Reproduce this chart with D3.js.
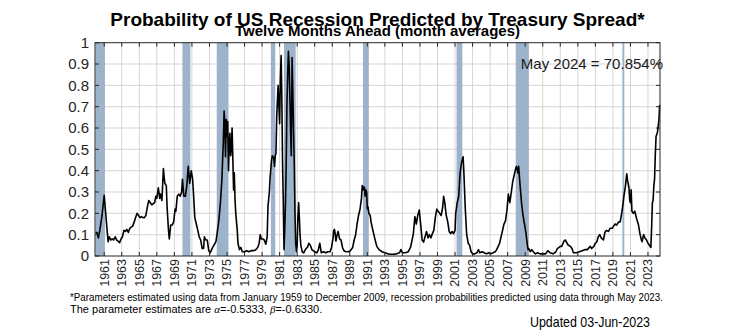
<!DOCTYPE html>
<html>
<head>
<meta charset="utf-8">
<script src="https://cdn.jsdelivr.net/npm/d3@7"></script>
<style>
  body { margin: 0; background: #fff; }
  text { font-family: "Liberation Sans", Arial, sans-serif; }
</style>
</head>
<body>
<div id="chart"></div>
<script>
// NBER recessions (decimal years)
var recStart = [1960.0, 1969.92, 1973.83, 1980.0, 1981.5, 1990.5, 2001.17, 2007.92, 2020.08];
var recEnd   = [1961.08, 1970.83, 1975.17, 1980.5, 1982.83, 1991.17, 2001.83, 2009.42, 2020.3];

var yearTicks = [1961, 1963, 1965, 1967, 1969, 1971, 1973, 1975, 1977, 1979, 1981, 1983, 1985, 1987,
  1989, 1991, 1993, 1995, 1997, 1999, 2001, 2003, 2005, 2007, 2009, 2011, 2013, 2015, 2017, 2019, 2021, 2023];
var probTicks = [0, 0.1, 0.2, 0.3, 0.4, 0.5, 0.6, 0.7, 0.8, 0.9, 1];
var probLabels = ["0", "0.1", "0.2", "0.3", "0.4", "0.5", "0.6", "0.7", "0.8", "0.9", "1"];

// [year, probability]
var spreadProb = [
  [1960.00,0.11],[1960.17,0.11],[1960.33,0.085],[1960.50,0.12],[1960.75,0.19],[1961.00,0.285],[1961.17,0.20],
  [1961.33,0.12],[1961.45,0.067],[1961.58,0.09],[1961.75,0.075],[1961.92,0.08],[1962.08,0.075],[1962.25,0.09],
  [1962.42,0.075],[1962.58,0.07],[1962.75,0.062],[1962.92,0.08],[1963.08,0.09],[1963.25,0.12],[1963.42,0.115],
  [1963.58,0.125],[1963.75,0.11],[1963.92,0.13],[1964.08,0.135],[1964.25,0.14],[1964.42,0.16],[1964.58,0.18],
  [1964.75,0.20],[1964.92,0.19],[1965.08,0.18],[1965.25,0.185],[1965.42,0.18],[1965.58,0.18],[1965.75,0.19],
  [1965.92,0.23],[1966.08,0.26],[1966.25,0.25],[1966.42,0.24],[1966.58,0.245],[1966.75,0.25],[1966.88,0.28],
  [1967.00,0.27],[1967.17,0.32],[1967.33,0.27],[1967.42,0.29],[1967.58,0.26],[1967.75,0.41],[1967.83,0.37],
  [1967.92,0.34],[1968.08,0.33],[1968.17,0.23],[1968.33,0.12],[1968.42,0.08],[1968.58,0.145],[1968.75,0.145],
  [1968.92,0.16],[1969.08,0.22],[1969.17,0.21],[1969.33,0.28],[1969.50,0.29],[1969.67,0.28],[1969.83,0.30],
  [1969.92,0.36],[1970.08,0.28],[1970.25,0.28],[1970.42,0.33],[1970.58,0.42],[1970.75,0.34],[1970.92,0.40],
  [1971.08,0.36],[1971.17,0.30],[1971.33,0.18],[1971.50,0.15],[1971.67,0.12],[1971.83,0.09],[1972.00,0.075],
  [1972.17,0.035],[1972.33,0.035],[1972.42,0.09],[1972.58,0.075],[1972.75,0.075],[1972.92,0.025],[1973.08,0.015],
  [1973.25,0.03],[1973.42,0.045],[1973.58,0.055],[1973.75,0.07],[1973.92,0.12],[1974.08,0.17],[1974.25,0.25],
  [1974.42,0.36],[1974.50,0.45],[1974.58,0.53],[1974.67,0.68],[1974.75,0.63],[1974.83,0.465],[1974.92,0.64],
  [1975.00,0.56],[1975.08,0.63],[1975.17,0.40],[1975.25,0.52],[1975.33,0.575],[1975.42,0.47],[1975.50,0.51],
  [1975.58,0.60],[1975.67,0.45],[1975.75,0.31],[1975.83,0.39],[1975.92,0.26],[1976.00,0.20],[1976.17,0.12],
  [1976.25,0.06],[1976.42,0.03],[1976.58,0.04],[1976.75,0.02],[1977.00,0.02],[1977.25,0.025],[1977.50,0.02],
  [1977.75,0.025],[1978.00,0.025],[1978.25,0.028],[1978.50,0.04],[1978.67,0.06],[1978.79,0.10],[1978.92,0.08],
  [1979.08,0.08],[1979.25,0.075],[1979.42,0.055],[1979.58,0.09],[1979.67,0.23],[1979.83,0.30],[1979.92,0.37],
  [1980.08,0.45],[1980.17,0.47],[1980.33,0.46],[1980.42,0.42],[1980.50,0.47],[1980.58,0.48],[1980.67,0.65],
  [1980.75,0.73],[1980.83,0.80],[1980.92,0.70],[1981.00,0.62],[1981.08,0.82],[1981.17,0.94],[1981.25,0.75],
  [1981.33,0.45],[1981.42,0.25],[1981.50,0.03],[1981.58,0.12],[1981.67,0.25],[1981.75,0.43],[1981.83,0.70],
  [1981.92,0.85],[1982.00,0.96],[1982.08,0.90],[1982.17,0.75],[1982.25,0.59],[1982.33,0.47],[1982.42,0.93],
  [1982.50,0.78],[1982.58,0.60],[1982.67,0.43],[1982.75,0.20],[1982.83,0.06],[1982.92,0.02],[1983.00,0.05],
  [1983.08,0.18],[1983.17,0.25],[1983.25,0.18],[1983.33,0.10],[1983.42,0.05],[1983.58,0.02],[1983.75,0.015],
  [1984.00,0.035],[1984.17,0.04],[1984.33,0.06],[1984.50,0.05],[1984.67,0.03],[1984.83,0.025],[1985.00,0.02],
  [1985.25,0.015],[1985.42,0.03],[1985.58,0.06],[1985.75,0.015],[1986.00,0.02],[1986.25,0.015],[1986.50,0.02],
  [1986.75,0.02],[1986.92,0.04],[1987.08,0.08],[1987.17,0.12],[1987.25,0.125],[1987.33,0.105],[1987.42,0.07],
  [1987.50,0.09],[1987.67,0.115],[1987.83,0.08],[1988.00,0.075],[1988.17,0.04],[1988.33,0.025],[1988.58,0.02],
  [1988.83,0.02],[1989.08,0.025],[1989.33,0.04],[1989.50,0.075],[1989.67,0.10],[1989.83,0.15],[1990.00,0.19],
  [1990.17,0.22],[1990.33,0.27],[1990.42,0.33],[1990.50,0.31],[1990.58,0.325],[1990.67,0.32],[1990.75,0.28],
  [1990.83,0.31],[1990.92,0.30],[1991.00,0.22],[1991.08,0.23],[1991.17,0.20],[1991.33,0.19],[1991.42,0.16],
  [1991.58,0.13],[1991.75,0.10],[1991.92,0.07],[1992.08,0.045],[1992.33,0.03],[1992.67,0.02],[1993.00,0.015],
  [1993.33,0.01],[1993.67,0.008],[1994.00,0.008],[1994.33,0.01],[1994.67,0.015],[1994.83,0.03],[1995.00,0.015],
  [1995.33,0.015],[1995.67,0.02],[1995.92,0.04],[1996.08,0.07],[1996.25,0.105],[1996.42,0.185],[1996.58,0.15],
  [1996.75,0.19],[1996.92,0.215],[1997.08,0.15],[1997.25,0.075],[1997.42,0.065],[1997.58,0.09],[1997.75,0.115],
  [1997.92,0.085],[1998.08,0.10],[1998.25,0.085],[1998.42,0.105],[1998.58,0.12],[1998.75,0.18],[1998.92,0.22],
  [1999.08,0.21],[1999.25,0.20],[1999.42,0.19],[1999.58,0.225],[1999.70,0.28],[1999.83,0.25],[2000.00,0.19],
  [2000.17,0.16],[2000.33,0.115],[2000.50,0.105],[2000.67,0.115],[2000.83,0.105],[2001.00,0.12],[2001.08,0.20],
  [2001.25,0.25],[2001.42,0.28],[2001.58,0.39],[2001.75,0.44],[2001.92,0.465],[2002.00,0.40],[2002.17,0.22],
  [2002.33,0.10],[2002.50,0.06],[2002.67,0.05],[2002.83,0.02],[2003.00,0.01],[2003.25,0.01],[2003.50,0.015],
  [2003.67,0.03],[2003.83,0.015],[2004.08,0.02],[2004.33,0.015],[2004.58,0.01],[2004.83,0.015],[2005.08,0.01],
  [2005.33,0.015],[2005.58,0.02],[2005.75,0.03],[2005.92,0.045],[2006.08,0.06],[2006.25,0.09],[2006.42,0.12],
  [2006.58,0.15],[2006.75,0.165],[2006.92,0.215],[2007.08,0.29],[2007.25,0.25],[2007.42,0.30],[2007.58,0.35],
  [2007.75,0.38],[2007.92,0.41],[2008.00,0.42],[2008.17,0.39],[2008.25,0.42],[2008.42,0.33],[2008.58,0.25],
  [2008.75,0.19],[2008.92,0.15],[2009.08,0.11],[2009.25,0.05],[2009.33,0.03],[2009.42,0.035],[2009.58,0.02],
  [2009.75,0.03],[2009.92,0.02],[2010.17,0.01],[2010.42,0.015],[2010.67,0.01],[2011.00,0.01],[2011.33,0.01],
  [2011.58,0.025],[2011.83,0.015],[2012.17,0.01],[2012.50,0.02],[2012.67,0.035],[2013.00,0.045],[2013.17,0.045],
  [2013.42,0.07],[2013.58,0.075],[2013.75,0.062],[2013.92,0.05],[2014.17,0.045],[2014.33,0.035],[2014.50,0.015],
  [2014.83,0.015],[2015.17,0.02],[2015.50,0.025],[2015.83,0.03],[2016.08,0.03],[2016.42,0.045],[2016.58,0.035],
  [2016.83,0.045],[2017.00,0.06],[2017.17,0.067],[2017.33,0.09],[2017.50,0.10],[2017.67,0.085],[2017.92,0.075],
  [2018.08,0.11],[2018.25,0.12],[2018.50,0.115],[2018.67,0.13],[2018.92,0.13],[2019.08,0.14],[2019.25,0.15],
  [2019.42,0.145],[2019.67,0.16],[2019.83,0.16],[2020.00,0.20],[2020.17,0.25],[2020.25,0.28],[2020.42,0.325],
  [2020.58,0.385],[2020.67,0.355],[2020.83,0.32],[2020.92,0.26],[2021.00,0.25],[2021.08,0.31],[2021.17,0.21],
  [2021.33,0.20],[2021.50,0.21],[2021.67,0.18],[2021.92,0.145],[2022.08,0.105],[2022.25,0.075],[2022.33,0.067],
  [2022.50,0.10],[2022.67,0.083],[2022.83,0.075],[2023.00,0.06],[2023.17,0.05],[2023.33,0.04],[2023.42,0.14],
  [2023.50,0.25],[2023.58,0.26],[2023.67,0.33],[2023.75,0.36],[2023.83,0.47],[2023.92,0.56],[2024.00,0.57],
  [2024.08,0.58],[2024.17,0.61],[2024.25,0.64],[2024.33,0.70854]
];

var lastLabel = "May 2024 = 70.854%";
var footLine1 = "*Parameters estimated using data from January 1959 to December 2009, recession probabilities predicted using data through May 2023.";
var updated = "Updated 03-Jun-2023";

var margin = {top: 42.7, right: 75, bottom: 76, left: 95},
    width = 735 - margin.left - margin.right,
    height = 332 - margin.top - margin.bottom;

var root = d3.select("#chart")
  .append("svg")
  .attr("width", 735)
  .attr("height", 332);

root.append("rect").attr("width", 735).attr("height", 332).attr("fill", "#fff");

var svg = root.append("g")
  .attr("transform", "translate(" + margin.left + "," + margin.top + ")");

var x = d3.scaleLinear().domain([1959.95, 2024.37]).range([0, width]);
var y = d3.scaleLinear().domain([0, 1]).range([height, 0]);

// grid
svg.append("g").selectAll("line")
  .data(yearTicks)
  .enter().append("line")
  .attr("x1", function(d) { return x(d); }).attr("x2", function(d) { return x(d); })
  .attr("y1", 0).attr("y2", height)
  .attr("stroke", "#d6d6d6").attr("stroke-width", 1);

svg.append("g").selectAll("line")
  .data(probTicks.slice(1, -1))
  .enter().append("line")
  .attr("x1", 0).attr("x2", width)
  .attr("y1", function(d) { return y(d); }).attr("y2", function(d) { return y(d); })
  .attr("stroke", "#d6d6d6").attr("stroke-width", 1);

// recession bands
svg.append("g").selectAll("rect")
  .data(recStart)
  .enter().append("rect")
  .attr("x", function(d) { return x(Math.max(d, x.domain()[0])); })
  .attr("y", 0)
  .attr("width", function(d, i) { return x(recEnd[i]) - x(Math.max(d, x.domain()[0])); })
  .attr("height", height)
  .attr("fill", "#9cb3cb");

// probability line
var line = d3.line()
  .x(function(d) { return x(d[0]); })
  .y(function(d) { return y(d[1]); });

svg.append("path")
  .datum(spreadProb)
  .attr("d", line)
  .attr("fill", "none")
  .attr("stroke", "#000")
  .attr("stroke-width", 1.6)
  .attr("stroke-linejoin", "round");

// axes box + inward ticks
svg.append("rect")
  .attr("width", width).attr("height", height)
  .attr("fill", "none").attr("stroke", "#262626").attr("stroke-width", 1);

var tk = svg.append("g").attr("stroke", "#262626").attr("stroke-width", 1);
yearTicks.forEach(function(t) {
  tk.append("line").attr("x1", x(t)).attr("x2", x(t)).attr("y1", 0).attr("y2", 4);
  tk.append("line").attr("x1", x(t)).attr("x2", x(t)).attr("y1", height).attr("y2", height - 4);
});
probTicks.forEach(function(t) {
  tk.append("line").attr("x1", 0).attr("x2", 4).attr("y1", y(t)).attr("y2", y(t));
  tk.append("line").attr("x1", width).attr("x2", width - 4).attr("y1", y(t)).attr("y2", y(t));
});

// y labels
svg.append("g").selectAll("text")
  .data(probTicks)
  .enter().append("text")
  .attr("x", -6)
  .attr("y", function(d) { return y(d); })
  .attr("dy", "0.35em")
  .attr("text-anchor", "end")
  .style("font-size", "15px")
  .attr("fill", "#262626")
  .text(function(d, i) { return probLabels[i]; });

// x labels, rotated
svg.append("g").selectAll("text")
  .data(yearTicks)
  .enter().append("text")
  .attr("transform", function(d) { return "translate(" + x(d) + "," + (height + 3) + ") rotate(-90)"; })
  .attr("dy", "0.35em")
  .attr("text-anchor", "end")
  .style("font-size", "12.5px")
  .attr("fill", "#262626")
  .text(function(d) { return d; });

// titles (they overlap a little in the original too)
root.append("text")
  .attr("x", margin.left + width / 2).attr("y", 26)
  .attr("text-anchor", "middle")
  .style("font-size", "19px").style("font-weight", "bold")
  .text("Probability of US Recession Predicted by Treasury Spread*");

root.append("text")
  .attr("x", margin.left + width / 2).attr("y", 36)
  .attr("text-anchor", "middle")
  .style("font-size", "15px").style("font-weight", "bold")
  .text("Twelve Months Ahead (month averages)");

// latest value note
svg.append("text")
  .attr("x", width + 3).attr("y", 26)
  .attr("text-anchor", "end")
  .style("font-size", "15px")
  .attr("fill", "#1a1a1a")
  .text(lastLabel);

// footnotes
var narrow = '"Liberation Sans Narrow", "Liberation Sans", Arial, sans-serif';
root.append("text")
  .attr("x", 70).attr("y", 301)
  .attr("textLength", 593).attr("lengthAdjust", "spacingAndGlyphs")
  .style("font-family", narrow).style("font-size", "11px")
  .text(footLine1);

var f2 = root.append("text")
  .attr("x", 70).attr("y", 312.5)
  .style("font-family", narrow).style("font-size", "11px");
f2.append("tspan").text("The parameter estimates are ");
f2.append("tspan").style("font-family", '"Liberation Serif", serif').style("font-style", "italic").text("\u03b1");
f2.append("tspan").text("=-0.5333, ");
f2.append("tspan").style("font-family", '"Liberation Serif", serif').style("font-style", "italic").text("\u03b2");
f2.append("tspan").text("=-0.6330.");

root.append("text")
  .attr("x", 530).attr("y", 327)
  .attr("textLength", 120).attr("lengthAdjust", "spacingAndGlyphs")
  .style("font-family", narrow).style("font-size", "15px")
  .text(updated);
</script>
</body>
</html>
